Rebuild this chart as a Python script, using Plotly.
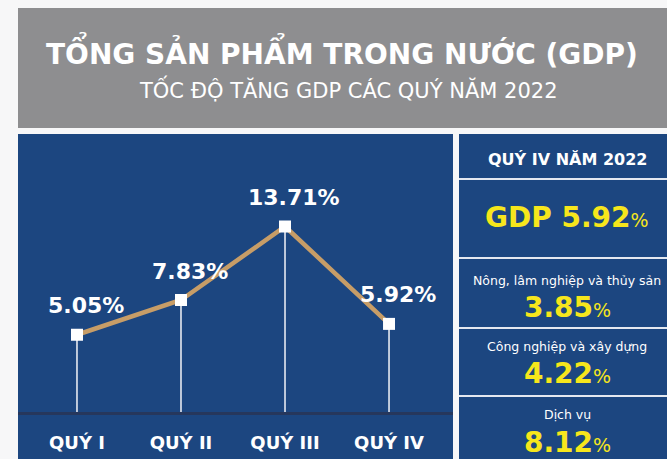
import plotly.graph_objects as go

# ---- data ----
quarters = ["QUÝ I", "QUÝ II", "QUÝ III", "QUÝ IV"]
gdp_growth = [5.05, 7.83, 13.71, 5.92]
value_labels = ["5.05%", "7.83%", "13.71%", "5.92%"]

title_text = "TỔNG SẢN PHẨM TRONG NƯỚC (GDP)"
subtitle_text = "TỐC ĐỘ TĂNG GDP CÁC QUÝ NĂM 2022"

panel_header = "QUÝ IV NĂM 2022"
q4_gdp = "5.92"
sector_names = ["Nông, lâm nghiệp và thủy sản", "Công nghiệp và xây dựng", "Dịch vụ"]
sector_values = ["3.85", "4.22", "8.12"]

# ---- style ----
W, H = 667, 459
BLUE = "#1c4680"
GRAY = "#8e8e90"
TAN = "#c79d67"
YELLOW = "#f6e61c"
FONT = "DejaVu Sans"
Y_MIN, Y_MAX = -1.13, 21.11


def px(x):
    return x / W


def py(y):
    return 1 - y / H


fig = go.Figure()

# stems from axis line up to each point
fig.add_trace(go.Scatter(
    x=quarters, y=gdp_growth, mode="markers",
    marker=dict(size=1, color="rgba(0,0,0,0)"),
    error_y=dict(type="data", symmetric=False,
                 array=[0] * len(gdp_growth),
                 arrayminus=[v - Y_MIN for v in gdp_growth],
                 color="#e6e9f0", thickness=1.6, width=0),
    hoverinfo="skip", showlegend=False,
))
# line
fig.add_trace(go.Scatter(
    x=quarters, y=gdp_growth, mode="lines",
    line=dict(color=TAN, width=4.5),
    hoverinfo="skip", showlegend=False,
))
# markers
fig.add_trace(go.Scatter(
    x=quarters, y=gdp_growth, mode="markers",
    marker=dict(symbol="square", size=12, color="white", line=dict(width=0)),
    hoverinfo="skip", showlegend=False,
))

shapes = []
shapes.append(dict(type="rect", xref="paper", yref="paper",
                   x0=px(18), x1=px(667), y0=py(128), y1=py(8),
                   fillcolor=GRAY, line=dict(width=0), layer="below"))
shapes.append(dict(type="rect", xref="paper", yref="paper",
                   x0=px(18), x1=px(453), y0=py(459), y1=py(134),
                   fillcolor=BLUE, line=dict(width=0), layer="below"))
shapes.append(dict(type="rect", xref="paper", yref="paper",
                   x0=px(459), x1=px(667), y0=py(459), y1=py(134),
                   fillcolor=BLUE, line=dict(width=0), layer="below"))
for ysep in [179, 258, 328, 396]:
    shapes.append(dict(type="line", xref="paper", yref="paper",
                       x0=px(459), x1=px(667), y0=py(ysep), y1=py(ysep),
                       line=dict(color="#e4e8f0", width=2), layer="above"))

annotations = []
annotations.append(dict(xref="paper", yref="paper", x=px(342), y=py(51),
                        text=f"<b>{title_text}</b>", showarrow=False,
                        font=dict(family=FONT, size=28, color="white"),
                        xanchor="center", yanchor="middle"))
annotations.append(dict(xref="paper", yref="paper", x=px(348), y=py(89),
                        text=subtitle_text, showarrow=False,
                        font=dict(family=FONT, size=21, color="white"),
                        xanchor="center", yanchor="middle"))

for q, v, lab in zip(quarters, gdp_growth, value_labels):
    annotations.append(dict(x=q, y=v, xref="x", yref="y", text=f"<b>{lab}</b>",
                            showarrow=False, xshift=9, yshift=29,
                            font=dict(family=FONT, size=22, color="white"),
                            xanchor="center", yanchor="middle"))

cx = px(567)
annotations.append(dict(xref="paper", yref="paper", x=cx, y=py(159),
                        text=f"<b>{panel_header}</b>", showarrow=False,
                        font=dict(family=FONT, size=16, color="white"),
                        xanchor="center", yanchor="middle"))
annotations.append(dict(xref="paper", yref="paper", x=cx, y=py(218),
                        text=f"<b>GDP {q4_gdp}</b><span style='font-size:19px'>%</span>",
                        showarrow=False,
                        font=dict(family=FONT, size=28, color=YELLOW),
                        xanchor="center", yanchor="middle"))
name_y = [280, 346, 414]
val_y = [307, 373, 442]
for name, val, ny, vy in zip(sector_names, sector_values, name_y, val_y):
    annotations.append(dict(xref="paper", yref="paper", x=cx, y=py(ny),
                            text=name, showarrow=False,
                            font=dict(family=FONT, size=12.5, color="white"),
                            xanchor="center", yanchor="middle"))
    annotations.append(dict(xref="paper", yref="paper", x=cx, y=py(vy),
                            text=f"<b>{val}</b><span style='font-size:19px'>%</span>",
                            showarrow=False,
                            font=dict(family=FONT, size=28, color=YELLOW),
                            xanchor="center", yanchor="middle"))

fig.update_layout(
    width=W, height=H,
    margin=dict(l=0, r=0, t=0, b=0),
    paper_bgcolor="#f7f7f8",
    plot_bgcolor="rgba(0,0,0,0)",
    shapes=shapes,
    annotations=annotations,
    showlegend=False,
    xaxis=dict(domain=[px(18), px(453)], type="category",
               range=[-0.567, 3.615], showgrid=False, zeroline=False,
               showline=True, linecolor="#26375c", linewidth=3,
               ticks="outside", ticklen=12, tickcolor="rgba(0,0,0,0)",
               tickfont=dict(family=FONT, size=18, color="white", weight="bold"),
               fixedrange=True),
    yaxis=dict(domain=[py(412), py(134)], range=[Y_MIN, Y_MAX],
               showgrid=False, zeroline=False, showline=False,
               showticklabels=False, fixedrange=True),
)

fig.write_html("out.html", config={"displayModeBar": False},
               post_script="document.body.style.margin='0';document.body.style.overflow='hidden';")
